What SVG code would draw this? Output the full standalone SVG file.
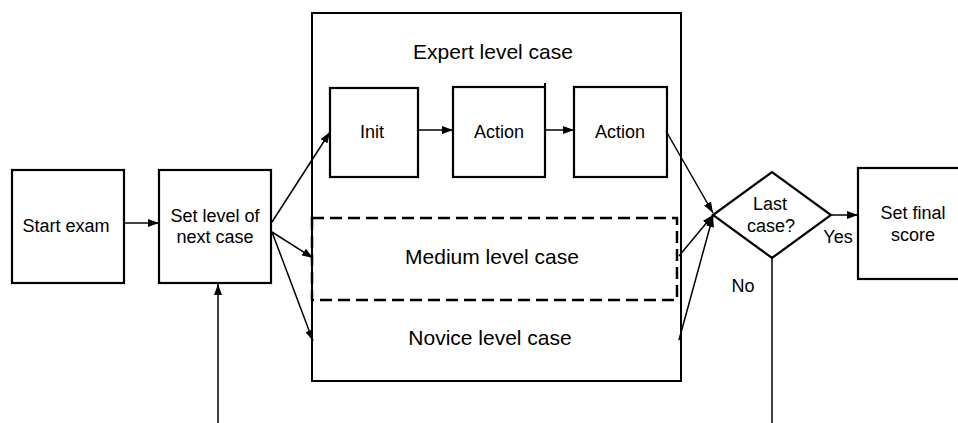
<svg xmlns="http://www.w3.org/2000/svg" width="958" height="423" viewBox="0 0 958 423">
  <defs>
    <marker id="arrow" viewBox="0 0 11 8" refX="11" refY="4" markerWidth="11" markerHeight="8" markerUnits="userSpaceOnUse" orient="auto">
      <path d="M0,0 L11,4 L0,8 Z" fill="#000"/>
    </marker>
  </defs>
  <style>
    .box { fill: #fff; stroke: #000; stroke-width: 2.2; }
    .frame { fill: none; stroke: #000; stroke-width: 2; }
    .dash { fill: none; stroke: #000; stroke-width: 2.5; stroke-dasharray: 12 6; }
    .edge { fill: none; stroke: #000; stroke-width: 1.5; }
    .arr { marker-end: url(#arrow); }
    text { font-family: "Liberation Sans", Arial, sans-serif; fill: #000; text-anchor: middle; }
    .big { font-size: 21px; }
    .mid { font-size: 18px; }
  </style>
  <rect width="958" height="423" fill="#fff"/>

  <!-- container for the case levels -->
  <g id="cases">
    <rect class="frame" x="312" y="13" width="369" height="368"/>
    <text class="big" x="493" y="59">Expert level case</text>
  </g>
  <g id="medium">
    <rect class="dash" x="312" y="218" width="365" height="82"/>
    <text class="big" x="492" y="264">Medium level case</text>
  </g>
  <g id="novice">
    <text class="big" x="490" y="345">Novice level case</text>
  </g>

  <g id="start">
    <rect class="box" x="12" y="170" width="112" height="113"/>
    <text class="mid" x="66" y="232">Start exam</text>
  </g>
  <g id="setlevel">
    <rect class="box" x="159" y="170" width="112" height="113"/>
    <text class="mid" x="215" y="222">Set level of</text>
    <text class="mid" x="215" y="243">next case</text>
  </g>
  <g id="init">
    <rect class="box" x="330" y="88" width="88" height="89"/>
    <text class="mid" x="372" y="138">Init</text>
  </g>
  <g id="action1">
    <rect class="box" x="453" y="87" width="92" height="90"/>
    <line class="frame" x1="545" y1="83" x2="545" y2="88"/>
    <text class="mid" x="499" y="138">Action</text>
  </g>
  <g id="action2">
    <rect class="box" x="574" y="87" width="93" height="90"/>
    <text class="mid" x="620" y="138">Action</text>
  </g>
  <g id="lastcase">
    <polygon class="box" points="713,215 772,172 831,215 772,258"/>
    <text class="mid" x="770" y="210">Last</text>
    <text class="mid" x="771" y="232">case?</text>
  </g>
  <g id="finalscore">
    <rect class="box" x="858" y="168" width="110" height="111"/>
    <text class="mid" x="913" y="219">Set final</text>
    <text class="mid" x="913" y="241">score</text>
  </g>

  <g id="connectors">
    <line class="edge arr" x1="124" y1="223" x2="159" y2="223"/>
    <line class="edge arr" x1="218" y1="423" x2="218" y2="284"/>
    <line class="edge arr" x1="272" y1="222" x2="330" y2="132"/>
    <line class="edge arr" x1="272" y1="232" x2="313" y2="258"/>
    <line class="edge arr" x1="272" y1="232" x2="313" y2="341"/>
    <line class="edge arr" x1="418" y1="130" x2="453" y2="130"/>
    <line class="edge arr" x1="545" y1="130" x2="574" y2="130"/>
    <line class="edge arr" x1="666" y1="131" x2="713" y2="213"/>
    <line class="edge arr" x1="679" y1="256" x2="713" y2="215"/>
    <line class="edge arr" x1="679" y1="340" x2="713" y2="216"/>
    <line class="edge arr" x1="831" y1="215" x2="858" y2="215"/>
    <line class="edge" x1="772" y1="258" x2="772" y2="423"/>
    <text class="mid" x="838" y="243">Yes</text>
    <text class="mid" x="743" y="292">No</text>
  </g>
</svg>
